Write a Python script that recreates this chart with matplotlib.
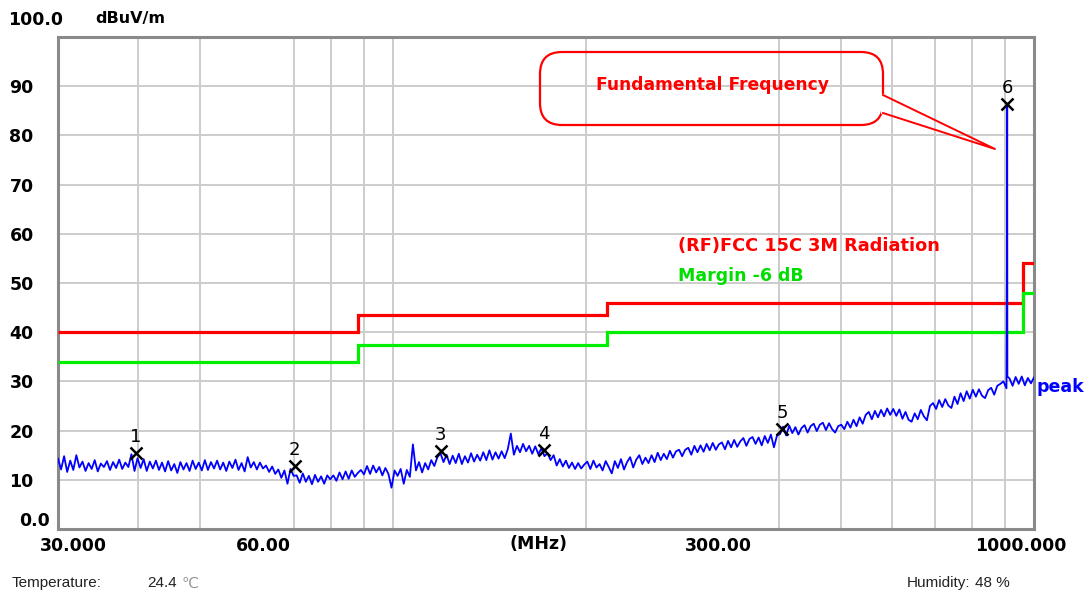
import numpy as np
import matplotlib
matplotlib.use('Agg')
import matplotlib.pyplot as plt
from matplotlib.patches import FancyBboxPatch
from matplotlib.lines import Line2D
from matplotlib.ticker import FixedLocator, FixedFormatter, LogLocator, NullFormatter
from matplotlib.transforms import ScaledTranslation

# peak trace (dBuV/m), one reading per sweep step, steps even on the log axis 30..1000 MHz
trace_30_40 = [14.3, 12.1, 14.8, 11.6, 13.9, 12.0, 15.0, 12.5, 13.7, 11.8, 13.4, 12.2, 14.0, 11.7,
               13.3, 12.6, 13.8, 12.0, 13.6, 12.4, 14.1, 12.2, 13.5, 12.6, 15.2, 11.8, 14.4]
trace_40_50 = [12.4, 14.2, 11.8, 13.7, 12.3, 13.9, 12.0, 13.5, 11.7, 13.8, 11.9, 13.2, 11.4, 13.6,
               12.1, 13.4, 11.8, 13.9, 12.2, 13.5]
trace_50_60 = [11.9, 14.0, 12.0, 13.6, 12.3, 13.9, 12.1, 13.5, 11.8, 13.7, 12.4, 14.1, 12.0, 13.4,
               11.7, 14.6, 12.5]
trace_60_70 = [13.6, 12.1, 13.5, 12.3, 12.9, 11.6, 12.7, 11.2, 12.1, 10.4, 11.9, 9.2, 12.2, 10.8]
trace_70_80 = [10.9, 9.4, 11.3, 9.6, 10.8, 9.1, 11.0, 9.6, 10.7, 9.2, 10.9, 10.1]
trace_80_90 = [10.9, 9.8, 11.5, 10.1, 11.7, 10.2, 11.9, 10.6, 11.4, 12.0, 11.1]
trace_90_100 = [12.8, 11.2, 12.9, 11.5, 12.6, 10.9, 12.4, 11.2, 8.4]
trace_100_200 = [11.9, 10.8, 12.2, 9.2, 12.0, 10.6, 17.2, 11.9, 13.6, 11.5, 13.4, 12.1, 14.0, 12.8,
                 14.6, 15.4, 13.6, 15.1, 13.2, 14.9, 13.4, 15.3, 13.2, 14.8, 13.5, 15.4, 13.7, 15.1,
                 13.9, 15.6, 14.0, 16.0, 14.1, 15.6, 14.3, 15.8, 14.4, 16.2, 19.4, 15.1, 16.9, 15.6,
                 17.3, 15.8, 16.9, 15.3, 16.8, 15.2, 16.4, 14.8, 15.4, 14.0, 15.0, 12.9, 14.2, 12.7,
                 13.9, 12.4, 13.5, 12.2, 13.4, 12.3, 13.1]
trace_200_300 = [13.7, 12.2, 13.9, 12.5, 13.2, 11.9, 13.8, 12.6, 11.3, 13.8, 12.4, 14.2, 12.1, 13.6,
                 14.6, 12.5, 14.1, 15.0, 13.2, 14.5, 13.4, 15.0, 13.6, 15.5, 14.0, 15.3, 14.2, 15.9,
                 14.5, 15.8, 16.1, 14.8, 16.1, 16.5, 15.1, 16.9, 15.6]
trace_300_400 = [17.0, 15.7, 17.3, 16.0, 17.5, 16.1, 17.2, 17.6, 16.2, 17.9, 16.6, 18.1, 16.7, 17.8,
                 18.5, 16.9, 18.3, 18.7, 17.3, 18.6, 17.0, 18.9, 17.5, 19.2, 16.6, 19.0]
trace_400_500 = [19.3, 20.8, 19.0, 21.0, 19.5, 20.7, 19.2, 20.5, 21.1, 19.6, 20.9, 21.4, 19.9, 21.2,
                 21.6, 20.1, 21.5, 20.3, 19.6, 20.9, 21.2]
trace_500_600 = [20.3, 21.8, 20.6, 22.2, 20.9, 22.7, 21.4, 23.2, 23.8, 22.3, 24.0, 22.7, 24.2, 22.9,
                 24.5, 23.2]
trace_600_700 = [24.4, 23.0, 24.3, 22.4, 23.8, 22.2, 21.8, 23.5, 22.3, 24.2, 22.9, 22.1, 25.0, 25.6]
trace_700_800 = [24.4, 26.2, 24.8, 26.4, 25.1, 24.6, 26.9, 25.4, 27.6, 26.0, 28.0, 26.5, 28.3]
trace_800_900 = [26.9, 28.4, 27.1, 26.6, 28.2, 28.7, 27.3, 29.1, 29.5]
trace_900_1000 = [30.0, 28.6, 30.6, 29.1, 30.9, 29.5, 31.0, 29.2, 30.7, 29.6, 30.8]

# fundamental carrier seen in the sweep
spike_freq = [907.5, 908.2, 908.8]
spike_level = [57.3, 86.3, 31.0]

# FCC 15C 3 m limit and the -6 dB margin line
limit_edges = [30, 88, 216, 960, 1000]
limit_levels = [40.0, 43.5, 46.0, 54.0]
margin_levels = [34.0, 37.5, 40.0, 48.0]

# marked points
marker_freq = [39.7, 70.2, 118.6, 171.7, 405.0, 908.2]
marker_level = [15.4, 12.8, 15.9, 16.0, 20.3, 86.3]

x_ticks = [30, 60, 300, 1000]
x_labels = ['30.000', '60.00', '300.00', '1000.000']
x_label_shift = [15, 12, 19, -13]   # px
y_ticks = [10, 20, 30, 40, 50, 60, 70, 80, 90]

trace = np.concatenate([trace_30_40, trace_40_50, trace_50_60, trace_60_70, trace_70_80,
                        trace_80_90, trace_90_100, trace_100_200, trace_200_300, trace_300_400,
                        trace_400_500, trace_500_600, trace_600_700, trace_700_800,
                        trace_800_900, trace_900_1000])
sweep = np.geomspace(30, 1000, len(trace))
freq = np.concatenate([sweep, spike_freq])
level = np.concatenate([trace, spike_level])
order = np.argsort(freq)
freq = freq[order]
level = level[order]

plt.rcParams['font.family'] = ['DejaVu Sans']

fig = plt.figure(figsize=(10.89, 5.98), dpi=100)
ax = fig.add_axes([58 / 1089, 1 - 529 / 598, 976 / 1089, 492 / 598])
ax.set_xscale('log')
ax.set_xlim(30, 1000)
ax.set_ylim(0, 100)

ax.xaxis.set_major_locator(FixedLocator(x_ticks))
ax.xaxis.set_major_formatter(FixedFormatter(x_labels))
ax.xaxis.set_minor_locator(LogLocator(base=10, subs=np.arange(1, 10), numticks=20))
ax.xaxis.set_minor_formatter(NullFormatter())
ax.set_yticks(y_ticks)
ax.set_yticklabels([str(v) for v in y_ticks])
ax.set_axisbelow(True)
ax.grid(which='minor', axis='x', color='#cccccc', lw=1.4)
ax.grid(which='major', axis='y', color='#cccccc', lw=1.4)
ax.tick_params(which='both', length=0)
ax.tick_params(axis='x', pad=6, labelsize=12.5)
ax.tick_params(axis='y', pad=35, labelsize=12.5)
for lab, dx in zip(ax.get_xticklabels(), x_label_shift):
    lab.set_fontweight('bold')
    lab.set_transform(lab.get_transform() + ScaledTranslation(dx / 100, 0, fig.dpi_scale_trans))
for lab in ax.get_yticklabels():
    lab.set_fontweight('bold')
    lab.set_ha('left')
for s in ax.spines.values():
    s.set_color('#8a8a8a')
    s.set_linewidth(2.2)

ax.set_xlabel('(MHz)', fontsize=12.5, fontweight='bold')
ax.xaxis.set_label_coords(0.492, -0.012)

ax.stairs(limit_levels, limit_edges, baseline=None, color='#ff0000', lw=2.3, zorder=3)
ax.stairs(margin_levels, limit_edges, baseline=None, color='#00ee00', lw=2.3, zorder=3)
ax.plot(freq, level, color='#0000ff', lw=1.3, zorder=4)

ax.plot(marker_freq, marker_level, ls='none', marker='x', color='black', ms=9, mew=1.8, zorder=6)
for i, (f, v) in enumerate(zip(marker_freq, marker_level)):
    ax.annotate(str(i + 1), (f, v), xytext=(0, 5), textcoords='offset points',
                ha='center', va='bottom', fontsize=13, zorder=6)

# axis end labels and unit
fig.text(19 / 1089, 1 - 521 / 598, '0.0', fontsize=12.5, fontweight='bold', va='center')
fig.text(8 / 1089, 1 - 20 / 598, '100.0', fontsize=12.5, fontweight='bold', va='center')
fig.text(95 / 1089, 1 - 19 / 598, 'dBuV/m', fontsize=11.5, fontweight='bold', va='center')

# legend texts
fig.text(678 / 1089, 1 - 246 / 598, '(RF)FCC 15C 3M Radiation', color='#ff0000',
         fontsize=12.8, fontweight='bold', va='center')
fig.text(678 / 1089, 1 - 276 / 598, 'Margin -6 dB', color='#00dd00',
         fontsize=12.5, fontweight='bold', va='center')
fig.text(1037 / 1089, 1 - 387 / 598, 'peak', color='#0000ff',
         fontsize=12.5, fontweight='bold', va='center')

# callout
tr = fig.dpi_scale_trans
box = FancyBboxPatch((5.40, 4.73), 3.43, 0.73, boxstyle='round,pad=0,rounding_size=0.22',
                     transform=tr, fc='none', ec='#ff0000', lw=1.6, zorder=7, clip_on=False)
fig.patches.append(box)
fig.lines.append(Line2D([8.83, 8.83], [4.86, 5.02], transform=tr, color='white', lw=3, zorder=8))
fig.lines.append(Line2D([8.83, 9.95, 8.83], [5.03, 4.49, 4.85], transform=tr,
                        color='#ff0000', lw=1.4, zorder=9))
fig.text(7.12 / 10.89, 5.13 / 5.98, 'Fundamental Frequency', color='#ff0000',
         fontsize=12.3, fontweight='bold', ha='center', va='center')

# footer
foot = ['Liberation Sans', 'DejaVu Sans']
fig.text(12 / 1089, 1 - 583 / 598, 'Temperature:', fontsize=11, family=foot, va='center', color='#222222')
fig.text(147 / 1089, 1 - 583 / 598, '24.4', fontsize=11, family=foot, va='center', color='#222222')
fig.text(182 / 1089, 1 - 583 / 598, '\u2103', fontsize=11, family=['DejaVu Sans'], va='center', color='#999999')
fig.text(907 / 1089, 1 - 583 / 598, 'Humidity:', fontsize=11, family=foot, va='center', color='#222222')
fig.text(975 / 1089, 1 - 583 / 598, '48 %', fontsize=11, family=foot, va='center', color='#222222')

fig.savefig('out.png', dpi=100)
